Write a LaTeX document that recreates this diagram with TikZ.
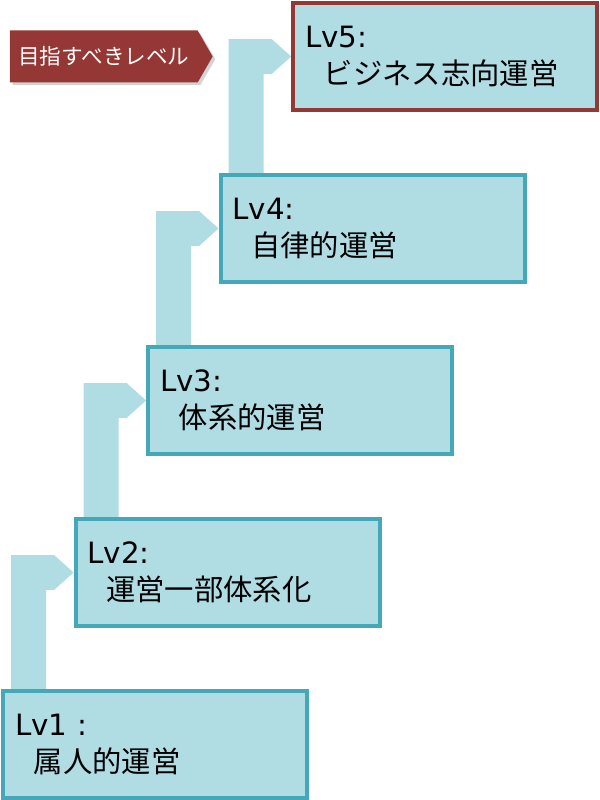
\documentclass[tikz,border=0pt]{standalone}
\usepackage{fontspec}
\newfontfamily\jpfont{Noto Sans CJK JP}
\newfontfamily\lvfont{DejaVu Sans}
\usetikzlibrary{positioning,calc,shapes.symbols,shadows,backgrounds}
\definecolor{lvfill}{HTML}{B0DCE4}
\definecolor{lvline}{HTML}{45A8B8}
\definecolor{goalred}{HTML}{953735}

% bent block arrow from the top of one level to the left side of the next
\newcommand\stepup[2]{%
  \fill[lvfill] let \p1=(#1.north west), \p2=(#2.west) in
    (\x1+7.5pt,\y1) -- (\x1+7.5pt,\y2+13.1pt) -- (\x2-14.6pt,\y2+13.1pt)
    -- (\x2,\y2) -- (\x2-14.6pt,\y2-13.1pt) -- (\x1+33.75pt,\y2-13.1pt)
    -- (\x1+33.75pt,\y1) -- cycle;}
\newcommand\lvtext[2]{{\lvfont #1}\\\hspace*{14pt}#2}

\begin{document}
\begin{tikzpicture}[x=0.75pt,y=0.75pt,node distance=129pt and 54.4pt,on grid,
  level/.style={draw=lvline,fill=lvfill,line width=3pt,rectangle,
    minimum width=228pt,minimum height=80pt,inner xsep=9pt,
    text width=210pt,align=left,font=\jpfont\fontsize{22}{28}\selectfont},
  goal/.style={signal,signal to=east,signal pointer angle=120,fill=goalred,
    minimum width=152pt,minimum height=39pt,text=white,
    font=\jpfont\fontsize{16.2}{18}\selectfont,
    drop shadow={shadow xshift=2pt,shadow yshift=-2pt,opacity=0.35}}]
  \useasboundingbox (0,0) rectangle (600,800);

  \node[level] (lv1) at (155,55.5) {\lvtext{Lv1 :}{属人的運営}};
  \node[level] (lv2) [above right=of lv1] {\lvtext{Lv2:}{運営一部体系化}};
  \node[level] (lv3) [above right=of lv2] {\lvtext{Lv3:}{体系的運営}};
  \node[level] (lv4) [above right=of lv3] {\lvtext{Lv4:}{自律的運営}};
  \node[level,draw=goalred] (lv5) [above right=of lv4] {\lvtext{Lv5:}{ビジネス志向運営}};

  \node[goal] (target) [left=256pt of lv5] {目指すべきレベル};

  \begin{scope}[on background layer]
    \stepup{lv1}{lv2}
    \stepup{lv2}{lv3}
    \stepup{lv3}{lv4}
    \stepup{lv4}{lv5}
  \end{scope}
\end{tikzpicture}
\end{document}
